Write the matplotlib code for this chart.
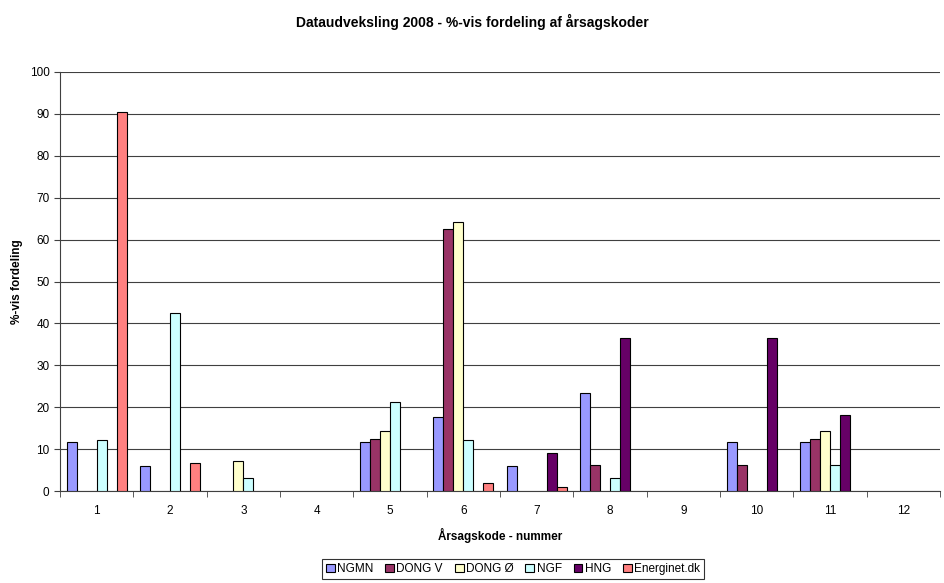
import matplotlib
matplotlib.use("Agg")
import matplotlib.pyplot as plt
import numpy as np

plt.rcParams['font.family'] = ['Liberation Sans', 'DejaVu Sans']

categories = ['1', '2', '3', '4', '5', '6', '7', '8', '9', '10', '11', '12']
series_names = ['NGMN', 'DONG V', 'DONG Ø', 'NGF', 'HNG', 'Energinet.dk']
ngmn      = [11.8, 5.9, 0, 0, 11.8, 17.6, 5.9, 23.5, 0, 11.8, 11.8, 0]
dong_v    = [0, 0, 0, 0, 12.5, 62.5, 0, 6.25, 0, 6.25, 12.5, 0]
dong_oe   = [0, 0, 7.1, 0, 14.3, 64.3, 0, 0, 0, 0, 14.3, 0]
ngf       = [12.1, 42.4, 3.0, 0, 21.2, 12.1, 0, 3.0, 0, 0, 6.1, 0]
hng       = [0, 0, 0, 0, 0, 0, 9.1, 36.4, 0, 36.4, 18.2, 0]
energinet = [90.5, 6.7, 0, 0, 0, 1.9, 0.95, 0, 0, 0, 0, 0]
colors = ['#9999FF', '#993366', '#FFFFCC', '#CCFFFF', '#660066', '#FF8080']

all_series = [ngmn, dong_v, dong_oe, ngf, hng, energinet]

fig = plt.figure(figsize=(9.44, 5.83), dpi=100)
ax = fig.add_axes([60/944, (583-491)/583, 880/944, (491-72)/583])

x = np.arange(len(categories))
w = 0.136
for i, (name, vals, c) in enumerate(zip(series_names, all_series, colors)):
    vals = np.array(vals, dtype=float)
    mask = vals > 0
    ax.bar(x[mask] + (i - 2.5) * w, vals[mask], width=w, color=c,
           edgecolor='black', linewidth=0.8, label=name, zorder=3)

ax.set_xlim(-0.5, len(categories) - 0.5)
ax.set_ylim(0, 100)
ax.set_yticks(np.arange(0, 101, 10))
ax.yaxis.grid(True, color='#404040', linewidth=0.8, zorder=0)
ax.set_axisbelow(True)

ax.set_xticks(x)
ax.set_xticklabels(categories, fontsize=8.5)
ax.set_xticks(np.arange(-0.5, len(categories) + 0.5, 1), minor=True)
ax.tick_params(axis='x', which='major', length=0, pad=10)
ax.tick_params(axis='x', which='minor', length=4, direction='out', color='#404040')
ax.tick_params(axis='y', labelsize=8.5, length=4, direction='out', color='#404040')

for s in ['top', 'right']:
    ax.spines[s].set_visible(False)
ax.spines['left'].set_color('#404040')
ax.spines['bottom'].set_color('#404040')

ax.set_xlabel('Årsagskode - nummer', fontsize=8.5, fontweight='bold', labelpad=8)
fig.text(17/944, 1 - 282/583, '%-vis fordeling', rotation=90, ha='center', va='center',
         fontsize=8.5, fontweight='bold')
fig.text(0.5, 1 - 22/583, 'Dataudveksling 2008 - %-vis fordeling af årsagskoder',
         ha='center', va='center', fontsize=10, fontweight='bold')

leg = fig.legend(loc='center', bbox_to_anchor=(513/944, 1 - 569/583), ncol=6,
                 fontsize=8.5, frameon=True, fancybox=False, edgecolor='black',
                 handlelength=0.75, handleheight=0.75, handletextpad=0.2,
                 columnspacing=1.0, borderpad=0.3, borderaxespad=0)
leg.get_frame().set_linewidth(0.8)

fig.savefig('out.png', dpi=100)
